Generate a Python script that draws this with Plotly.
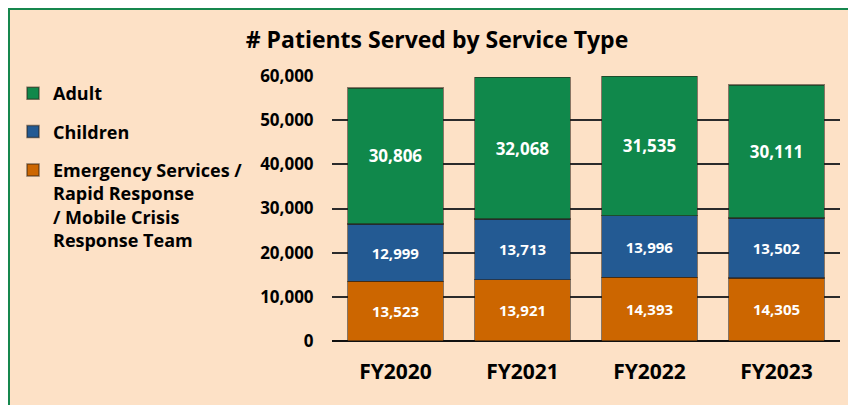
import plotly.graph_objects as go

years = ["FY2020", "FY2021", "FY2022", "FY2023"]
emergency = [13523, 13921, 14393, 14305]
children = [12999, 13713, 13996, 13502]
adult = [30806, 32068, 31535, 30111]
y_ticks = [0, 10000, 20000, 30000, 40000, 50000, 60000]

# page body has an 8px margin; figure drawn at screen offset (8, 8)
OFF = 8
W, H = 856 - OFF, 405 - OFF
L, R, T, B = 332 - OFF, 16, 76 - OFF, 64
pw, ph = W - L - R, H - T - B

FONT = "Open Sans"
c_green, c_blue, c_orange = "#10884B", "#235A93", "#CC6600"

fig = go.Figure()
series = [
    ("Emergency Services /<br>Rapid Response<br>/ Mobile Crisis<br>Response Team", emergency, c_orange, 15, 3),
    ("Children", children, c_blue, 15, 2),
    ("Adult", adult, c_green, 17, 1),
]
for i, (name, vals, col, fs, rank) in enumerate(series):
    fig.add_trace(go.Bar(
        x=years, y=vals, name=name, legendgroup=f"g{i}", legendrank=rank,
        marker=dict(color=col, line=dict(color="rgba(40,30,20,0.55)", width=1.5)),
        texttemplate="%{y:,}", textposition="inside", insidetextanchor="middle",
        textangle=0,
        textfont=dict(family=FONT, size=fs, color="white", weight="bold"),
        constraintext="none",
    ))

def px_x(p):
    return (p - L) / pw

def px_y(p):
    return (H - B - p) / ph

fig.add_shape(type="rect", xref="paper", yref="paper",
              x0=px_x(0.5), x1=px_x(W + 20), y0=px_y(H + 20), y1=px_y(0.5),
              fillcolor="#FDE1C6", line=dict(color="#16874E", width=3), layer="below")

fig.update_layout(
    width=W, height=H,
    margin=dict(l=L, r=R, t=T, b=B),
    paper_bgcolor="white", plot_bgcolor="rgba(0,0,0,0)",
    barmode="stack", bargap=0.245,
    title=dict(text="# Patients Served by Service Type", x=(437 - OFF) / W, xref="container",
               xanchor="center", y=1 - (40 - OFF) / H, yref="container", yanchor="middle",
               font=dict(family=FONT, size=23, color="black", weight="bold")),
    legend=dict(xref="container", yref="container", x=5 / W, y=1 - (75 - OFF) / H,
                xanchor="left", yanchor="top", bgcolor="rgba(0,0,0,0)",
                traceorder="grouped", tracegroupgap=12, valign="top",
                font=dict(family=FONT, size=18, color="black", weight="bold"),
                itemwidth=30),
    xaxis=dict(showgrid=False, showline=False, ticks="outside", ticklen=12,
               tickcolor="rgba(0,0,0,0)",
               tickfont=dict(family=FONT, size=21, color="black", weight="bold")),
    yaxis=dict(range=[0, 60000], tickvals=y_ticks, tickformat=",",
               showgrid=True, gridcolor="#2b2b2b", gridwidth=1.5,
               zeroline=True, zerolinecolor="#111111", zerolinewidth=1.5,
               showline=False, ticks="outside", ticklen=14, tickcolor="rgba(0,0,0,0)",
               tickfont=dict(family=FONT, size=17, color="black", weight="bold")),
)

fig.write_html("out.html")
